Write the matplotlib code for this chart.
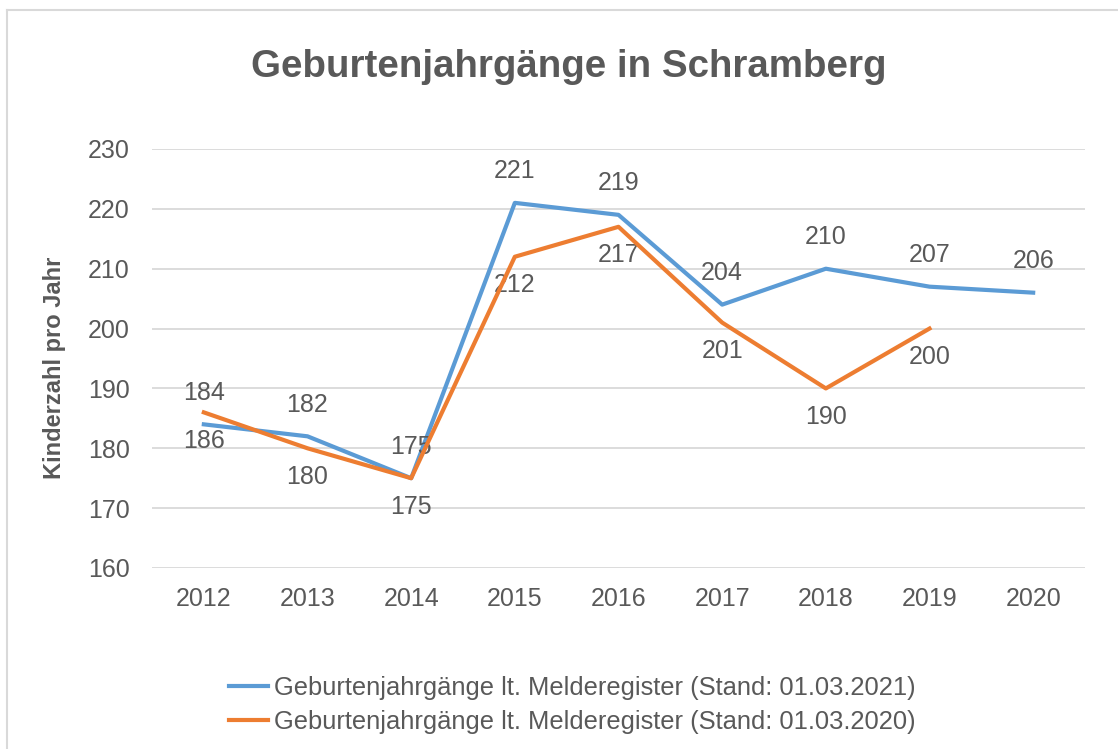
import matplotlib
matplotlib.use("Agg")
import matplotlib.pyplot as plt
from matplotlib.lines import Line2D

years = ["2012", "2013", "2014", "2015", "2016", "2017", "2018", "2019", "2020"]
blue_vals = [184, 182, 175, 221, 219, 204, 210, 207, 206]
orange_vals = [186, 180, 175, 212, 217, 201, 190, 200]
yticks = [160, 170, 180, 190, 200, 210, 220, 230]
title = "Geburtenjahrgänge in Schramberg"
ylabel = "Kinderzahl pro Jahr"
legend_labels = ["Geburtenjahrgänge lt. Melderegister (Stand: 01.03.2021)",
                 "Geburtenjahrgänge lt. Melderegister (Stand: 01.03.2020)"]

BLUE = "#5B9BD5"
ORANGE = "#ED7D31"
TXT = "#595959"
GRID = "#D9D9D9"

plt.rcParams['font.family'] = ['Liberation Sans', 'DejaVu Sans']

fig = plt.figure(figsize=(11.18, 7.49), dpi=100)
ax = fig.add_axes([152/1118, 1 - 568/749, (1085-152)/1118, (568-149)/749])

x_blue = list(range(len(blue_vals)))
x_orange = list(range(len(orange_vals)))
ax.plot(x_blue, blue_vals, color=BLUE, lw=3.0, solid_joinstyle='round', zorder=3)
ax.plot(x_orange, orange_vals, color=ORANGE, lw=3.0, solid_joinstyle='round', zorder=4)

ax.set_xlim(-0.5, len(years) - 0.5)
ax.set_ylim(160, 230)
ax.set_xticks(range(len(years)))
ax.set_xticklabels(years)
ax.set_yticks(yticks)
ax.tick_params(axis='both', length=0, labelsize=18, colors=TXT)
ax.tick_params(axis='x', pad=14)
ax.tick_params(axis='y', pad=16)
ax.grid(axis='y', color=GRID, lw=1.3)
ax.set_axisbelow(True)
for s in ax.spines.values():
    s.set_visible(False)

for xi, v in zip(x_blue, blue_vals):
    ax.annotate(str(v), (xi, v), xytext=(0, 14), textcoords='offset points',
                ha='center', va='bottom', fontsize=18, color=TXT)
for xi, v in zip(x_orange, orange_vals):
    ax.annotate(str(v), (xi, v), xytext=(0, -12), textcoords='offset points',
                ha='center', va='top', fontsize=18, color=TXT)

ax.set_ylabel(ylabel, fontsize=17, fontweight='bold', color=TXT, va='center')
ax.yaxis.set_label_coords((55 - 152) / 933, 0.477)
fig.text(569/1118, 1 - 77/749, title, ha='center', va='baseline',
         fontsize=27.7, fontweight='bold', color=TXT)

handles = [Line2D([], [], color=BLUE, lw=3.0), Line2D([], [], color=ORANGE, lw=3.0)]
leg = fig.legend(handles, legend_labels, loc='center', bbox_to_anchor=(572/1118, 1 - 705/749),
                 frameon=False, fontsize=18.4, labelcolor=TXT, handlelength=1.55,
                 handletextpad=0.2, labelspacing=0.4)

# outer chart border
fig.add_artist(Line2D([7/1118, 1], [1 - 10/749, 1 - 10/749], transform=fig.transFigure,
                      color=GRID, lw=1.5))
fig.add_artist(Line2D([7/1118, 7/1118], [0, 1 - 10/749], transform=fig.transFigure,
                      color=GRID, lw=1.5))

fig.savefig("out.png", dpi=100, facecolor='white')
